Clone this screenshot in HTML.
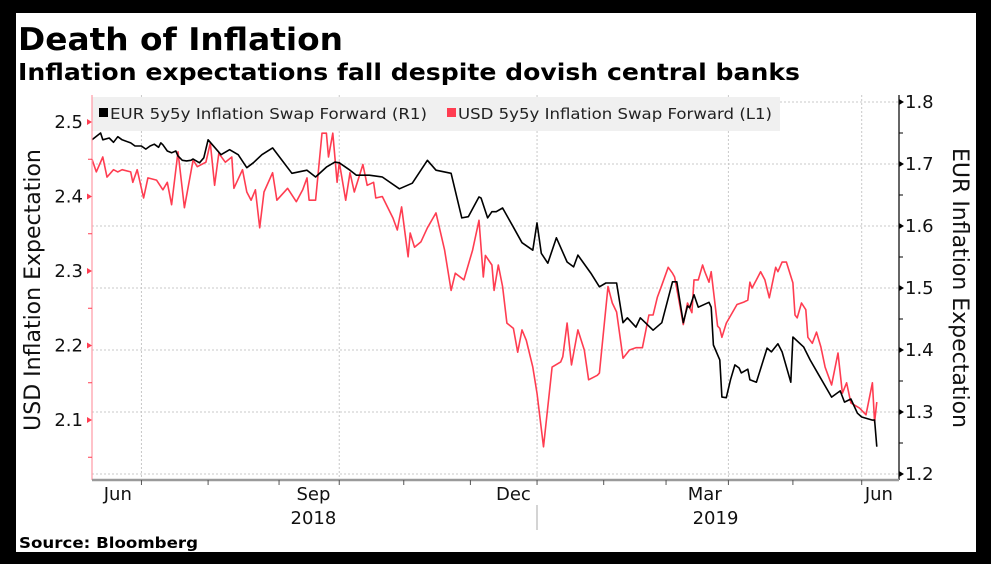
<!DOCTYPE html>
<html><head><meta charset="utf-8"><style>
html,body{margin:0;padding:0;background:#000;}
svg{display:block;}
text{font-family:"DejaVu Sans","Liberation Sans",sans-serif;}
</style></head><body>
<svg id="chart" width="991" height="564" xmlns="http://www.w3.org/2000/svg">
<rect x="0" y="0" width="991" height="564" fill="#000"/>
<rect x="16" y="13" width="960" height="539" fill="#fff"/>
<text x="18" y="50" font-size="31" font-weight="bold" textLength="325" lengthAdjust="spacingAndGlyphs">Death of Inflation</text>
<text x="18" y="80" font-size="23" font-weight="bold" textLength="782" lengthAdjust="spacingAndGlyphs">Inflation expectations fall despite dovish central banks</text>
<text x="19" y="548" font-size="15" font-weight="bold" textLength="179" lengthAdjust="spacingAndGlyphs">Source: Bloomberg</text>
<g id="grid"></g>
<rect x="92" y="97" width="688" height="34" fill="#f0f0f0"/>
<g id="marks"></g>
<g id="axes"></g>
<g>
<rect x="99" y="108" width="9" height="9" fill="#000"/>
<text x="110" y="119" font-size="15" fill="#222" textLength="317" lengthAdjust="spacingAndGlyphs">EUR 5y5y Inflation Swap Forward (R1)</text>
<rect x="447" y="108" width="9" height="9" fill="#ff3d51"/>
<text x="458" y="119" font-size="15" fill="#222" textLength="314" lengthAdjust="spacingAndGlyphs">USD 5y5y Inflation Swap Forward (L1)</text>
</g>
<text transform="translate(40,290) rotate(-90)" text-anchor="middle" font-size="22" fill="#111">USD Inflation Expectation</text>
<text transform="translate(953,288) rotate(90)" text-anchor="middle" font-size="22" fill="#111">EUR Inflation Expectation</text>
</svg>
<script>
const eurDays=[0,4,5,8,10,12,14,18,20,23,25,27,29,31,32,33,35,37,39,40,42,44,46,47,48,50,52,54,60,64,68,72,75,79,84,89,93,100,104,109,113,115,120,123,129,135,143,149,156,160,167,172,175,180,181,184,186,188,191,196,200,205,207,209,212,216,221,224,226,232,236,239,244,247,249,253,255,261,265,270,272,275,277,278,280,282,287,288,289,292,293,295,297,299,301,302,305,306,309,314,316,319,321,325,326,331,334,338,344,348,350,353,356,358,363,364,365];
const eurValues=[1.739,1.750,1.739,1.742,1.735,1.744,1.739,1.734,1.729,1.729,1.724,1.729,1.732,1.727,1.734,1.731,1.721,1.718,1.721,1.713,1.706,1.705,1.706,1.708,1.706,1.702,1.710,1.739,1.715,1.723,1.715,1.694,1.702,1.715,1.726,1.703,1.685,1.690,1.679,1.695,1.703,1.702,1.690,1.682,1.682,1.679,1.660,1.669,1.706,1.690,1.685,1.613,1.615,1.647,1.645,1.613,1.623,1.623,1.629,1.598,1.573,1.561,1.605,1.556,1.540,1.581,1.542,1.534,1.553,1.524,1.502,1.508,1.508,1.444,1.452,1.437,1.452,1.432,1.444,1.510,1.510,1.444,1.471,1.468,1.489,1.469,1.477,1.469,1.408,1.384,1.324,1.323,1.352,1.376,1.371,1.363,1.369,1.352,1.348,1.403,1.397,1.410,1.397,1.348,1.421,1.405,1.384,1.360,1.324,1.334,1.316,1.321,1.298,1.292,1.287,1.287,1.244];
const usdDays=[0,2,5,7,10,12,14,18,19,21,24,26,30,33,35,37,40,43,47,49,53,55,57,59,62,65,66,70,72,74,76,78,80,84,86,91,95,98,100,101,104,107,109,110,112,114,115,118,120,122,126,128,131,132,135,140,142,144,147,148,150,153,156,160,164,167,169,173,177,180,182,183,186,187,189,191,193,196,198,200,202,205,207,210,214,218,219,221,223,226,229,231,235,236,240,242,244,247,250,253,256,259,261,263,265,268,270,271,273,275,277,279,280,282,284,285,287,288,291,292,293,295,298,300,303,305,306,307,309,311,313,315,318,319,321,323,326,327,328,330,332,333,335,337,339,341,344,347,349,351,353,357,360,363,364,365];
const usdValues=[2.450,2.433,2.453,2.426,2.436,2.433,2.436,2.433,2.419,2.436,2.398,2.425,2.422,2.409,2.419,2.389,2.460,2.385,2.449,2.440,2.446,2.472,2.415,2.458,2.446,2.453,2.411,2.436,2.406,2.395,2.409,2.358,2.406,2.432,2.395,2.411,2.393,2.409,2.425,2.395,2.395,2.485,2.485,2.453,2.485,2.419,2.446,2.395,2.432,2.406,2.443,2.415,2.419,2.398,2.400,2.371,2.355,2.386,2.319,2.351,2.332,2.339,2.358,2.378,2.328,2.274,2.297,2.288,2.328,2.368,2.292,2.321,2.308,2.274,2.308,2.279,2.230,2.223,2.191,2.221,2.207,2.171,2.136,2.064,2.171,2.178,2.185,2.230,2.174,2.221,2.194,2.154,2.160,2.163,2.279,2.257,2.245,2.183,2.194,2.197,2.197,2.241,2.241,2.265,2.281,2.305,2.297,2.292,2.261,2.228,2.257,2.244,2.288,2.288,2.308,2.299,2.285,2.299,2.226,2.223,2.211,2.230,2.245,2.255,2.258,2.261,2.285,2.277,2.288,2.299,2.288,2.264,2.305,2.299,2.312,2.312,2.284,2.241,2.237,2.257,2.248,2.211,2.203,2.218,2.198,2.171,2.147,2.190,2.136,2.150,2.123,2.116,2.107,2.150,2.097,2.124];
const leftTicks=[2.1,2.2,2.3,2.4,2.5];
const rightTicks=[1.2,1.3,1.4,1.5,1.6,1.7,1.8];
const majorTickDays=[23,115,207,296,358];
const minorTickDays=[54,87,145,176,238,267,326];
const monthLabels=["Jun","Sep","Dec","Mar","Jun"];
const monthLabelDays=[12,103,196,285,366];
const yearLabels=["2018","2019"];
const yearLabelDays=[103,290];

const X0=92,X1=899,YB=480,YT=95;
function xs(d){return 92+d*2.15;}
function yL(v){return 122+(2.5-v)*745;}
function yR(v){return 102+(1.8-v)*620;}
const NS="http://www.w3.org/2000/svg";
function mk(tag,attrs,parent){const e=document.createElementNS(NS,tag);for(const k in attrs)e.setAttribute(k,attrs[k]);parent.appendChild(e);return e;}
const grid=document.getElementById('grid'),marks=document.getElementById('marks'),axes=document.getElementById('axes');

rightTicks.forEach(v=>{const g=mk('line',{x1:X0,x2:X1,y1:yR(v),y2:yR(v),stroke:'#c8c8c8','stroke-width':1,'stroke-dasharray':'2,2'},grid);

});
majorTickDays.forEach(d=>{const g=mk('line',{x1:xs(d),x2:xs(d),y1:YT,y2:YB,stroke:'#c8c8c8','stroke-width':1,'stroke-dasharray':'2,2'},grid);

});

function path(days,vals,yf,color,name){let d='';for(let i=0;i<days.length;i++){d+=(i?'L':'M')+xs(days[i]).toFixed(1)+','+yf(vals[i]).toFixed(1);}
const p=mk('path',{d:d,fill:'none',stroke:color,'stroke-width':1.6,'stroke-linejoin':'round'},marks);

}
path(usdDays,usdValues,yL,'#ff3d51','usd-series-line');
path(eurDays,eurValues,yR,'#000','eur-series-line');

// left axis
const la=mk('line',{x1:X0,x2:X0,y1:YT,y2:YB,stroke:'#ff9aa5','stroke-width':1.2},axes);


leftTicks.forEach(v=>{const y=yL(v);
mk('path',{d:`M${X0-5},${y-3}L${X0},${y}L${X0-5},${y+3}Z`,fill:'#ff3d51'},axes);
const t=mk('text',{x:X0-9,y:y+6,'text-anchor':'end','font-size':18,fill:'#111'},axes);t.textContent=v.toFixed(1);


const m=yL(v-0.05);if(m<YB)mk('line',{x1:X0-4,x2:X0,y1:m,y2:m,stroke:'#ff3d51'},axes);});
// right axis
const ra=mk('line',{x1:X1,x2:X1,y1:YT,y2:YB,stroke:'#000','stroke-width':1.2},axes);


rightTicks.forEach(v=>{const y=yR(v);
mk('path',{d:`M${X1},${y-3}L${X1+5},${y}L${X1},${y+3}Z`,fill:'#000'},axes);
const t=mk('text',{x:X1+6,y:y+6,'font-size':18,fill:'#111'},axes);t.textContent=v.toFixed(1);


const m=yR(v+0.05);if(v<1.8)mk('line',{x1:X1,x2:X1+4,y1:m,y2:m,stroke:'#000'},axes);});
// x axis
const xa=mk('line',{x1:X0,x2:X1,y1:YB,y2:YB,stroke:'#9a9a9a','stroke-width':2.5},axes);


majorTickDays.concat(minorTickDays).forEach(d=>{mk('line',{x1:xs(d),x2:xs(d),y1:YB,y2:YB+5,stroke:'#555'},axes);});
monthLabels.forEach((s,i)=>{const t=mk('text',{x:xs(monthLabelDays[i]),y:500,'text-anchor':'middle','font-size':18,fill:'#111'},axes);t.textContent=s;

});
yearLabels.forEach((s,i)=>{const t=mk('text',{x:xs(yearLabelDays[i]),y:524,'text-anchor':'middle','font-size':18,fill:'#111'},axes);t.textContent=s;

});
mk('line',{x1:537,x2:537,y1:505,y2:530,stroke:'#aaa'},axes);
</script>
</body></html>
